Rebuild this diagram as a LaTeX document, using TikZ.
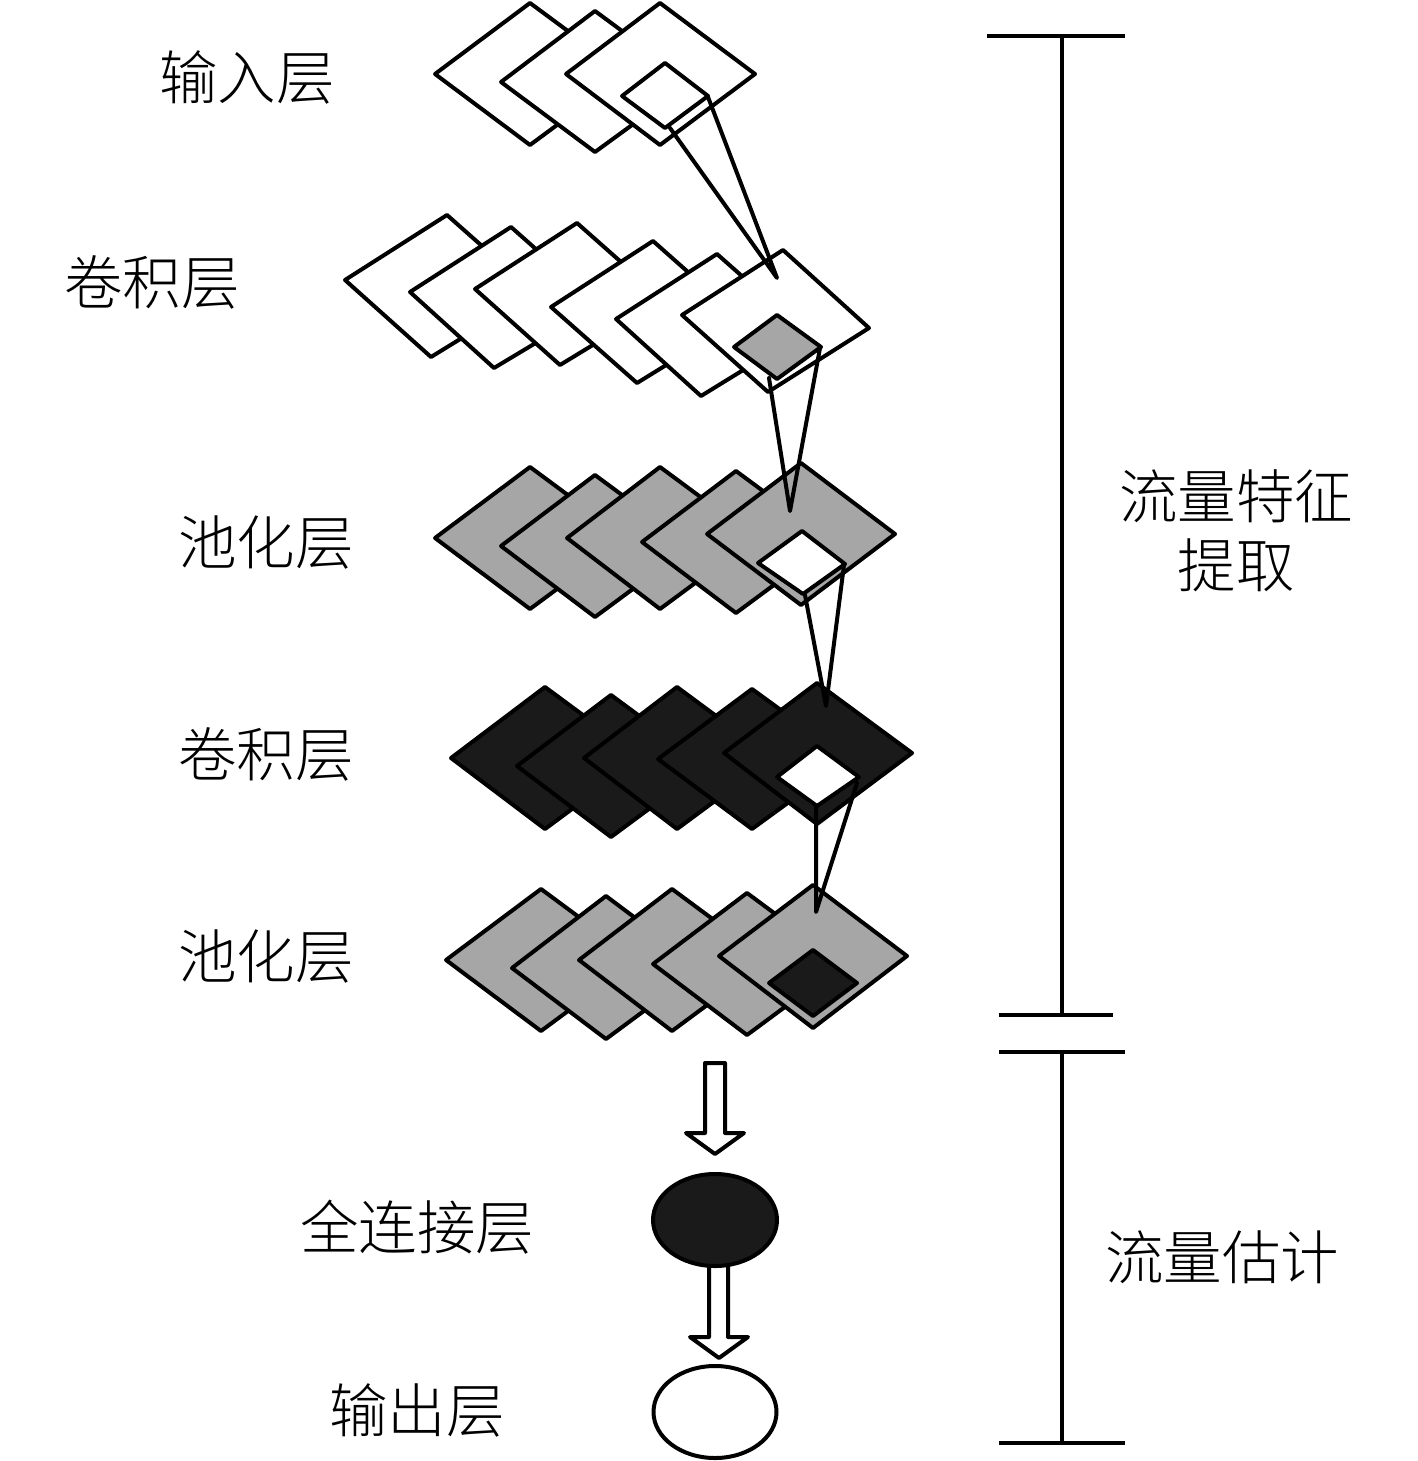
\documentclass[tikz,border=0pt]{standalone}
\usepackage{fontspec}
\setmainfont{Noto Sans CJK SC Light}
\usetikzlibrary{shapes.geometric}
\definecolor{lgray}{HTML}{A6A6A6}
\definecolor{dgray}{HTML}{1A1A1A}
\tikzset{
  lay/.style={draw=black,line width=4pt,line join=round},
  wlay/.style={lay,fill=white},
  glay/.style={lay,fill=lgray},
  blay/.style={lay,fill=dgray},
  cone/.style={draw=black,line width=4pt,line cap=round,line join=round},
  rule/.style={draw=black,line width=3.6pt},
  lbl/.style={inner sep=0pt,font=\fontsize{58.5}{66}\selectfont,text=black},
  hollow/.style={draw=black,line width=4pt,fill=white,line join=round},
  oval/.style={ellipse,draw=black,line width=4pt,inner sep=0pt}
}
\newcommand{\quadr}[9]{\path[#1] (#2,#3) -- (#4,#5) -- (#6,#7) -- (#8,#9) -- cycle;}
\begin{document}
\begin{tikzpicture}[x=1pt,y=-1pt]
\fill[white] (0,0) rectangle (1417,1461);
\useasboundingbox (0,0) rectangle (1417,1461);
% input layer
\quadr{wlay}{435}{74}{530}{3}{626}{74}{530}{145}
\quadr{wlay}{501}{82}{595}{11}{691}{82}{595}{152}
\quadr{wlay}{566}{74}{660}{3}{755}{74}{660}{145}
\quadr{wlay}{622}{96}{665}{63}{708}{96}{665}{128}
% convolution layer 1
\quadr{wlay}{345}{280}{447}{215}{535}{293}{431}{357}
\quadr{wlay}{410}{292}{511}{227}{599}{305}{494}{368}
\quadr{wlay}{475}{289}{577}{223}{665}{301}{560}{365}
\quadr{wlay}{551}{307}{653}{241}{741}{319}{637}{383}
\quadr{wlay}{616}{319}{717}{254}{805}{332}{701}{396}
\quadr{wlay}{682}{315}{783}{250}{869}{328}{768}{392}
\quadr{glay}{734}{347}{777}{315}{821}{347}{777}{379}
% pooling layer 1
\quadr{glay}{435}{538}{530}{467}{626}{538}{530}{609}
\quadr{glay}{501}{546}{595}{475}{691}{546}{595}{617}
\quadr{glay}{567}{538}{660}{467}{756}{538}{660}{609}
\quadr{glay}{642}{542}{736}{471}{832}{542}{736}{613}
\quadr{glay}{707}{534}{801}{463}{895}{534}{801}{605}
\quadr{wlay}{758}{563}{802}{531}{845}{564}{803}{594}
% convolution layer 2
\quadr{blay}{451}{758}{545}{687}{641}{758}{545}{829}
\quadr{blay}{517}{766}{611}{695}{707}{766}{611}{837}
\quadr{blay}{584}{758}{677}{687}{773}{758}{677}{829}
\quadr{blay}{658}{759}{752}{689}{848}{759}{752}{829}
\quadr{blay}{724}{753}{817}{683}{912}{753}{817}{824}
\quadr{wlay}{777}{777}{817}{746}{859}{777}{817}{806}
% pooling layer 2
\quadr{glay}{446}{960}{541}{889}{637}{960}{541}{1031}
\quadr{glay}{512}{968}{606}{896}{702}{968}{606}{1039}
\quadr{glay}{579}{960}{672}{889}{768}{960}{672}{1031}
\quadr{glay}{653}{964}{747}{893}{843}{964}{747}{1035}
\quadr{glay}{719}{956}{813}{885}{907}{956}{813}{1028}
\quadr{blay}{769}{983}{813}{950}{857}{983}{813}{1016}
% cones
\coordinate (c1a) at (670,128); \coordinate (c1b) at (708,97); \coordinate (c1t) at (777,278);
\coordinate (c2a) at (769,378); \coordinate (c2b) at (820,348); \coordinate (c2t) at (790,511);
\coordinate (c3a) at (805,595); \coordinate (c3b) at (844,565); \coordinate (c3t) at (826,706);
\coordinate (c4a) at (816,807); \coordinate (c4b) at (857,783); \coordinate (c4t) at (816,912);
\draw[cone] (c1a) -- (c1t) -- (c1b);
\draw[cone] (c2a) -- (c2t) -- (c2b);
\draw[cone] (c3a) -- (c3t) -- (c3b);
\draw[cone] (c4a) -- (c4t) -- (c4b);
% block arrows and ovals
\path[hollow] (705,1063) -- (725,1063) -- (725,1133) -- (744,1133) -- (715,1154) -- (686,1133) -- (705,1133) -- cycle;
\path[hollow] (709,1262) -- (728,1262) -- (728,1337) -- (748,1337) -- (719,1358) -- (690,1337) -- (709,1337) -- cycle;
\node[oval,fill=dgray,minimum width=124pt,minimum height=92pt] (fc) at (715,1220) {};
\node[oval,fill=white,minimum width=123pt,minimum height=92pt] (out) at (715,1412) {};
% brackets
\coordinate (b1t) at (1062,36); \coordinate (b1b) at (1062,1015);
\coordinate (b2t) at (1062,1052); \coordinate (b2b) at (1062,1443);
\draw[rule] (b1t) -- (b1b);
\draw[rule] (b2t) -- (b2b);
\draw[rule] (987,36) -- (1125,36);
\draw[rule] (999,1015) -- (1113,1015);
\draw[rule] (999,1052) -- (1125,1052);
\draw[rule] (999,1443) -- (1125,1443);
% labels
\node[lbl] (t1) at (247,78) {输入层};
\node[lbl] (t2) at (152,282) {卷积层};
\node[lbl] (t3) at (266,543) {池化层};
\node[lbl] (t4) at (266,754) {卷积层};
\node[lbl] (t5) at (266,957) {池化层};
\node[lbl] (t6) at (417,1227) {全连接层};
\node[lbl] (t7) at (417,1410) {输出层};
\node[lbl] (t8) at (1236,496) {流量特征};
\node[lbl] (t9) at (1236,565) {提取};
\node[lbl] (t10) at (1222,1257) {流量估计};
\end{tikzpicture}
\end{document}
